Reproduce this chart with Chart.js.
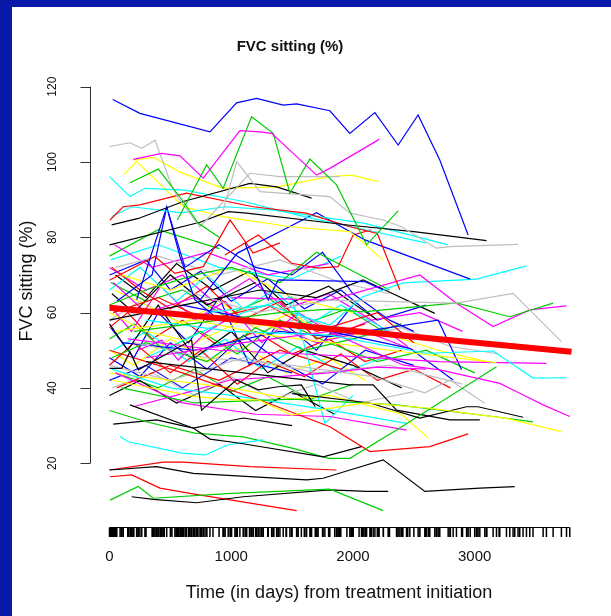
<!DOCTYPE html>
<html>
<head>
<meta charset="utf-8">
<script src="https://cdn.jsdelivr.net/npm/chart.js@4/dist/chart.umd.min.js"></script>
<style>
  html, body { margin: 0; padding: 0; }
  body { width: 611px; height: 616px; background: #0818a8; position: relative; overflow: hidden; }
  #panel { position: absolute; left: 12px; top: 7px; width: 599px; height: 609px; background: #ffffff; }
  #wrap { position: absolute; left: 0; top: 0; width: 611px; height: 616px; }
</style>
</head>
<body>
<div id="panel"></div>
<div id="wrap"><canvas id="fvcChart" width="611" height="616"></canvas></div>
<script>
// R default palette: black, red, green3, blue, cyan, magenta, yellow, gray
const palette = ["#000000", "#ff0000", "#00cd00", "#0000ff", "#00ffff", "#ff00ff", "#ffff00", "#bebebe"];

// one entry per patient: colour index, visit days, FVC sitting (%)
const colourIdx = [3, 5, 2, 2, 7, 7, 0, 0, 1, 4, 4, 6, 6, 3, 3, 3, 1, 1, 0, 0, 0, 2, 0, 1, 1, 4,
  7, 2, 5, 4, 4, 5, 6, 0, 2, 2, 0, 0, 1, 7, 6, 5, 3, 3, 5, 4, 6, 5, 5, 4, 0, 2, 3, 7, 6, 1,
  2, 5, 4, 7, 1, 3, 0, 2, 5, 6,
  0, 1, 2, 3, 4, 5, 6, 7, 0, 1, 2, 3, 4, 5, 6, 7, 0, 1, 2, 3];

const days = [
  [26, 250, 825, 1044, 1208, 1427, 1537, 1810, 1974, 2180, 2371, 2535, 2713, 2946],
  [195, 429, 579, 770, 1071, 1236, 1332, 1701, 1810, 2215],
  [557, 798, 934, 1167, 1345, 1482, 1646, 1865, 2112, 2371],
  [168, 401, 606, 727, 900],
  [0, 168, 265, 374, 513, 566, 743, 1154, 1400, 1890],
  [935, 1045, 1236, 1810, 1975, 2248, 2399, 2686, 2796, 3356],
  [18, 237, 606, 1154, 1373, 1660],
  [0, 743, 975, 1127, 1975, 2500, 3097],
  [4, 113, 250, 633, 1181, 1614, 1975, 2200, 2385],
  [0, 168, 291, 620, 1100, 1600, 2100, 2600],
  [18, 182, 592, 948, 1332, 2098, 2782],
  [195, 360, 580, 934, 1373, 1810, 1988, 2207],
  [113, 223, 606, 932, 1482, 1975, 2248],
  [743, 1050, 1454, 1700, 2098, 2963],
  [223, 470, 579, 702, 900],
  [1115, 1222, 1304, 1386, 1700, 2098, 2250],
  [948, 1222, 1496, 1714, 1878, 2002, 2150],
  [0, 373, 537, 770, 990, 1180, 1400],
  [0, 100, 168, 237, 427, 674, 756, 1043, 1222, 1386, 1576, 1690],
  [168, 690, 825, 1071, 1755, 2070],
  [0, 387, 688, 1619, 1755, 1975, 2248, 2590, 3042, 3329],
  [4, 236, 360, 1000, 1810, 2248],
  [182, 360, 716, 1098, 1810, 2112, 2289],
  [4, 182, 415, 661, 1537],
  [0, 442, 606, 1154, 1865],
  [87, 154, 593, 784, 975, 1263],
  [600, 1200, 1810, 2850, 3315, 3712],
  [200, 900, 1400, 1810, 2081, 2850, 3288, 3644],
  [1000, 1810, 2549, 2850, 3151, 3452, 3754],
  [800, 1300, 1810, 2081, 2410, 3015, 3425],
  [300, 1000, 1810, 2604, 3151, 3479, 3754],
  [300, 1100, 1810, 2410, 2713, 3206, 3370, 3562, 3781],
  [18, 291, 702, 1030, 1222, 1496, 1714, 2100, 2631, 3261, 3712],
  [1500, 2139, 2549, 2933, 3028, 3397],
  [100, 700, 1500, 2358, 3151, 3479],
  [0, 300, 700, 1100, 1500, 1800, 1975, 2358, 3179],
  [0, 600, 1236, 1700, 2084, 2672],
  [300, 1100, 1975, 2166, 2358, 2796, 3042],
  [0, 600, 1300, 1810, 2139, 2631, 2946],
  [200, 800, 1500, 2166, 2590, 2796, 3083],
  [50, 700, 1300, 1810, 2300, 3179],
  [150, 900, 1600, 2200, 2700, 3589],
  [100, 700, 1400, 1810, 2700, 2892],
  [600, 1200, 1810, 2467, 2823],
  [50, 600, 1200, 1810, 2440],
  [20, 500, 1000, 1810, 2440],
  [0, 500, 1000, 1500, 1810, 2400, 2620],
  [195, 661, 990, 1400, 1800, 2200, 2600],
  [236, 428, 565, 784, 1003, 1304, 1700, 2100, 2500],
  [300, 1100, 1496, 1769, 2000],
  [31, 387, 688, 1100, 1500],
  [0, 300, 700, 1000, 1400, 1700, 2000, 2300],
  [60, 350, 470, 620, 900, 1200, 1500, 1750, 2000, 2300, 2500],
  [50, 400, 900, 1400, 1900, 2300],
  [100, 500, 1000, 1500, 2000],
  [30, 400, 800, 1300, 1700, 2200, 2500],
  [20, 300, 800, 1200, 1600, 2000, 2400],
  [40, 350, 800, 1300, 1800],
  [10, 400, 900, 1500, 1900],
  [0, 500, 1100, 1700, 2300, 2900],
  [60, 500, 900, 1400, 1900],
  [0, 300, 600, 1000, 1500],
  [20, 200, 500, 800, 1200],
  [0, 400, 900],
  [30, 300, 700, 1100],
  [0, 300, 700, 1100, 1600],
  [0, 150, 400, 700, 1000, 1300, 1600, 2000, 2400],
  [20, 250, 500, 800, 1100, 1400, 1700, 2100],
  [0, 200, 450, 750, 1050, 1400, 1800, 2200, 2600, 3000],
  [10, 200, 400, 650, 900, 1150, 1400, 1700, 2000],
  [0, 250, 550, 800, 1100, 1350, 1650, 1900, 2300],
  [0, 180, 420, 700, 950, 1250, 1550, 1850, 2150, 2450],
  [40, 300, 600, 900, 1200, 1500, 1800, 2200, 2700, 3100],
  [0, 250, 600, 900, 1250, 1600, 2000, 2400, 2800, 3200],
  [50, 300, 550, 850, 1150, 1450, 1800, 2200],
  [0, 200, 500, 750, 1050, 1300, 1600, 1900, 2200, 2500, 2800],
  [10, 300, 600, 950, 1300, 1600, 1950, 2300],
  [0, 250, 500, 800, 1100, 1400, 1750, 2100, 2500],
  [30, 300, 650, 950, 1250, 1550, 1900, 2250],
  [0, 300, 600, 850, 1150, 1450, 1800, 2150, 2550, 2900],
  [0, 200, 500, 800, 1100, 1450, 1800, 2100],
  [20, 350, 700, 1000, 1350, 1700, 2050, 2500],
  [0, 250, 550, 900, 1200, 1500, 1850],
  [0, 150, 350, 600, 900, 1200, 1500, 1800, 2100, 2400],
  [50, 400, 700, 1000, 1300, 1650, 2000],
  [0, 300, 500, 750, 1000, 1300, 1600, 1900, 2200, 2600]
];

const fvc = [
  [116.6, 112.9, 108.0, 115.7, 116.9, 115.1, 115.4, 113.6, 107.6, 113.1, 104.5, 112.5, 100.5, 80.6],
  [100.7, 102.3, 101.6, 95.7, 108.3, 108.0, 107.6, 96.5, 98.3, 106.0],
  [84.6, 99.2, 93.0, 112.0, 107.6, 91.7, 100.8, 93.9, 78.0, 87.0],
  [94.5, 98.1, 89.5, 83.8, 80.0],
  [104.1, 105.1, 103.6, 105.8, 93.4, 90.4, 82.8, 97.0, 96.1, 96.1],
  [87.3, 100.1, 92.1, 90.8, 86.4, 84.6, 82.8, 77.1, 77.5, 78.1],
  [83.3, 85.0, 89.5, 94.3, 93.4, 90.4],
  [78.0, 84.0, 86.8, 86.4, 83.2, 81.5, 79.1],
  [84.6, 88.1, 88.6, 91.7, 88.1, 86.4, 82.8, 81.0, 66.0],
  [96.1, 90.8, 93.0, 92.5, 89.5, 85.5, 82.0, 78.5],
  [85.5, 88.1, 86.5, 88.1, 87.3, 83.7, 78.0],
  [100.5, 101.2, 97.3, 93.0, 93.4, 96.1, 96.5, 94.8],
  [96.5, 100.1, 88.1, 85.5, 82.8, 81.5, 74.0],
  [63.3, 75.8, 82.4, 86.5, 79.3, 68.9],
  [63.4, 88.1, 74.9, 63.4, 58.0],
  [78.4, 68.7, 63.4, 68.7, 68.5, 68.2, 66.0],
  [75.3, 80.6, 73.1, 71.8, 72.2, 80.6, 82.0],
  [68.6, 74.9, 70.4, 72.2, 84.6, 75.8, 78.5],
  [45.2, 45.2, 49.6, 44.8, 48.3, 52.7, 34.1, 42.1, 39.5, 40.3, 40.8, 35.0],
  [35.5, 29.3, 26.4, 25.3, 21.7, 24.4],
  [18.2, 19.1, 17.3, 15.6, 16.0, 18.2, 20.9, 12.5, 13.4, 13.8],
  [10.2, 13.8, 10.7, 12.0, 13.1, 7.4],
  [11.1, 10.4, 9.5, 11.1, 12.9, 12.5, 12.5],
  [16.4, 16.9, 13.4, 12.0, 7.4],
  [18.2, 20.3, 20.3, 19.1, 18.2],
  [27.1, 25.7, 22.7, 22.2, 24.9, 26.2],
  [66.0, 60.0, 63.3, 62.5, 65.1, 52.3],
  [55.0, 58.0, 60.0, 60.9, 60.2, 62.6, 58.9, 62.5],
  [64.0, 63.3, 70.0, 62.5, 56.3, 60.7, 61.8],
  [60.0, 62.0, 56.7, 64.2, 67.9, 68.9, 72.4],
  [58.0, 55.0, 54.0, 49.2, 49.8, 42.6, 42.7],
  [48.0, 52.0, 55.0, 46.1, 44.8, 41.2, 38.6, 35.5, 32.4],
  [42.1, 40.3, 37.7, 36.8, 36.8, 32.8, 34.1, 36.0, 34.6, 31.9, 28.4],
  [38.5, 36.0, 32.0, 35.0, 35.0, 32.2],
  [40.0, 36.0, 37.0, 35.5, 32.4, 31.0],
  [34.0, 31.0, 28.0, 27.0, 24.0, 21.3, 21.3, 28.8, 45.6],
  [58.0, 62.0, 66.0, 64.0, 68.7, 59.8],
  [47.0, 44.0, 40.8, 40.8, 34.1, 31.5, 31.5],
  [50.0, 44.0, 36.0, 29.7, 23.1, 24.4, 27.8],
  [52.0, 48.0, 46.0, 43.0, 38.7, 42.1, 35.9],
  [55.0, 58.0, 54.0, 52.0, 50.0, 46.7],
  [53.0, 50.0, 49.0, 48.0, 47.0, 46.5],
  [52.0, 50.0, 55.0, 53.6, 58.0, 44.8],
  [62.0, 58.0, 55.0, 50.5, 42.1],
  [44.0, 36.0, 33.0, 32.4, 28.8],
  [45.0, 40.0, 38.0, 34.1, 30.6],
  [44.0, 42.0, 40.0, 37.0, 38.0, 33.0, 26.6],
  [35.0, 39.0, 42.1, 43.0, 44.0, 45.5, 45.0],
  [50.0, 52.7, 47.4, 54.5, 58.9, 57.2, 52.0, 55.0, 50.0],
  [48.0, 60.0, 64.2, 30.6, 38.0],
  [30.4, 31.5, 29.3, 32.0, 30.0],
  [62.0, 66.0, 70.0, 72.0, 68.0, 76.0, 71.0, 66.0],
  [63.0, 70.0, 88.0, 72.0, 78.0, 72.0, 70.0, 76.0, 65.0, 58.0, 55.0],
  [72.0, 75.0, 70.0, 74.0, 68.0, 65.0],
  [70.0, 66.0, 72.0, 64.0, 60.0],
  [60.0, 64.0, 58.0, 62.0, 55.0, 60.0, 52.0],
  [48.0, 52.0, 47.0, 56.0, 50.0, 53.0, 57.0],
  [78.0, 72.0, 76.0, 70.0, 73.0],
  [74.0, 78.0, 72.0, 69.0, 75.0],
  [46.0, 42.0, 48.0, 44.0, 46.0, 41.0],
  [40.0, 46.0, 42.0, 50.0, 45.0],
  [42.0, 46.0, 40.0, 48.0, 44.0],
  [65.0, 60.0, 70.0, 62.0, 68.0],
  [75.0, 82.0, 77.0],
  [68.0, 60.0, 64.0, 58.0],
  [60.0, 55.0, 52.0, 58.0, 54.0],
  [57, 50, 62, 48, 55, 44, 50, 46, 40],
  [72, 66, 61, 67, 58, 63, 53, 57],
  [53, 57, 50, 55, 49, 58, 52, 47, 50, 44],
  [56, 48, 60, 52, 64, 46, 58, 50, 62],
  [66, 72, 63, 70, 61, 66, 57, 62, 55],
  [62, 55, 67, 58, 63, 52, 60, 54, 58, 51],
  [66, 62, 57, 63, 56, 60, 53, 55, 50, 47],
  [58, 63, 57, 61, 55, 59, 53, 56, 51, 49],
  [70, 64, 73, 66, 71, 62, 67, 58],
  [46, 52, 44, 50, 41, 47, 43, 49, 42, 45, 40],
  [68, 63, 66, 59, 64, 57, 61, 54],
  [48, 43, 52, 45, 54, 47, 41, 50, 46],
  [50, 55, 47, 53, 45, 51, 44, 48],
  [72, 66, 70, 63, 69, 61, 65, 58, 60, 55],
  [50, 46, 53, 47, 51, 44, 48, 42],
  [40, 44, 38, 43, 37, 41, 36, 39],
  [38, 42, 36, 41, 34, 39, 33],
  [56, 60, 53, 58, 51, 55, 49, 53, 47, 50],
  [44, 40, 45, 39, 43, 37, 41],
  [70, 74, 66, 71, 63, 69, 61, 66, 58, 62]
];

// population trend (thick red line)
const fitDays = [0, 3795];
const fitFvc = [61.3, 49.6];

const yTicks = [20, 40, 60, 80, 100, 120];
const xTicks = [0, 1000, 2000, 3000];

// rug = every visit time
const rugDays = days.flat();

const datasets = [{
  data: fitDays.map((d, i) => ({ x: d, y: fitFvc[i] })),
  borderColor: "#ff0000",
  borderWidth: 6,
  pointRadius: 0,
  borderCapStyle: "butt"
}];
days.forEach((row, i) => {
  datasets.push({
    data: row.map((d, j) => ({ x: d, y: fvc[i][j] })),
    borderColor: palette[colourIdx[i]],
    borderWidth: 1.2,
    pointRadius: 0
  });
});

const FONT = '"Liberation Sans", Arial, sans-serif';

const rAxes = {
  id: "rAxes",
  afterDraw(chart) {
    const ctx = chart.ctx;
    const xs = chart.scales.x, ys = chart.scales.y;
    const area = chart.chartArea;
    ctx.save();
    ctx.fillStyle = "#111";
    ctx.strokeStyle = "#333";
    ctx.lineWidth = 1;

    // title
    ctx.font = "bold 15px " + FONT;
    ctx.textAlign = "center";
    ctx.textBaseline = "middle";
    ctx.fillText("FVC sitting (%)", 290, 47);

    // y axis
    const ax = area.left - 0.5;
    ctx.beginPath();
    ctx.moveTo(ax, ys.getPixelForValue(yTicks[0]));
    ctx.lineTo(ax, ys.getPixelForValue(yTicks[yTicks.length - 1]));
    yTicks.forEach(v => {
      const py = Math.round(ys.getPixelForValue(v)) + 0.5;
      ctx.moveTo(ax, py);
      ctx.lineTo(ax - 10, py);
    });
    ctx.stroke();
    ctx.font = "12px " + FONT;
    yTicks.forEach(v => {
      ctx.save();
      ctx.translate(53, ys.getPixelForValue(v));
      ctx.rotate(-Math.PI / 2);
      ctx.fillText(String(v), 0, 0);
      ctx.restore();
    });
    ctx.font = "18px " + FONT;
    ctx.save();
    ctx.translate(27, 281);
    ctx.rotate(-Math.PI / 2);
    ctx.fillText("FVC sitting (%)", 0, 0);
    ctx.restore();

    // x labels
    ctx.font = "15px " + FONT;
    xTicks.forEach(v => ctx.fillText(String(v), xs.getPixelForValue(v), 557));
    ctx.font = "18px " + FONT;
    ctx.fillText("Time (in days) from treatment initiation", 339, 593);

    // rug
    const top = area.bottom - 3.5, bot = area.bottom + 6;
    ctx.strokeStyle = "#000";
    ctx.beginPath();
    ctx.moveTo(xs.getPixelForValue(Math.min(...rugDays)), top);
    ctx.lineTo(xs.getPixelForValue(Math.max(...rugDays)), top);
    ctx.stroke();
    ctx.lineWidth = 1.5;
    ctx.beginPath();
    rugDays.forEach(d => {
      const px = xs.getPixelForValue(d);
      ctx.moveTo(px, top);
      ctx.lineTo(px, bot);
    });
    ctx.stroke();
    ctx.restore();
  }
};

new Chart(document.getElementById("fvcChart"), {
  type: "line",
  data: { datasets: datasets },
  options: {
    responsive: false,
    animation: false,
    parsing: true,
    layout: { autoPadding: false, padding: { left: 91, right: 21, top: 81, bottom: 85 } },
    elements: { line: { tension: 0, fill: false } },
    plugins: { legend: { display: false }, title: { display: false }, tooltip: { enabled: false } },
    scales: {
      x: { type: "linear", min: -152, max: 3947, display: false },
      y: { type: "linear", min: 2, max: 121.5, display: false }
    }
  },
  plugins: [rAxes]
});
</script>
</body>
</html>
